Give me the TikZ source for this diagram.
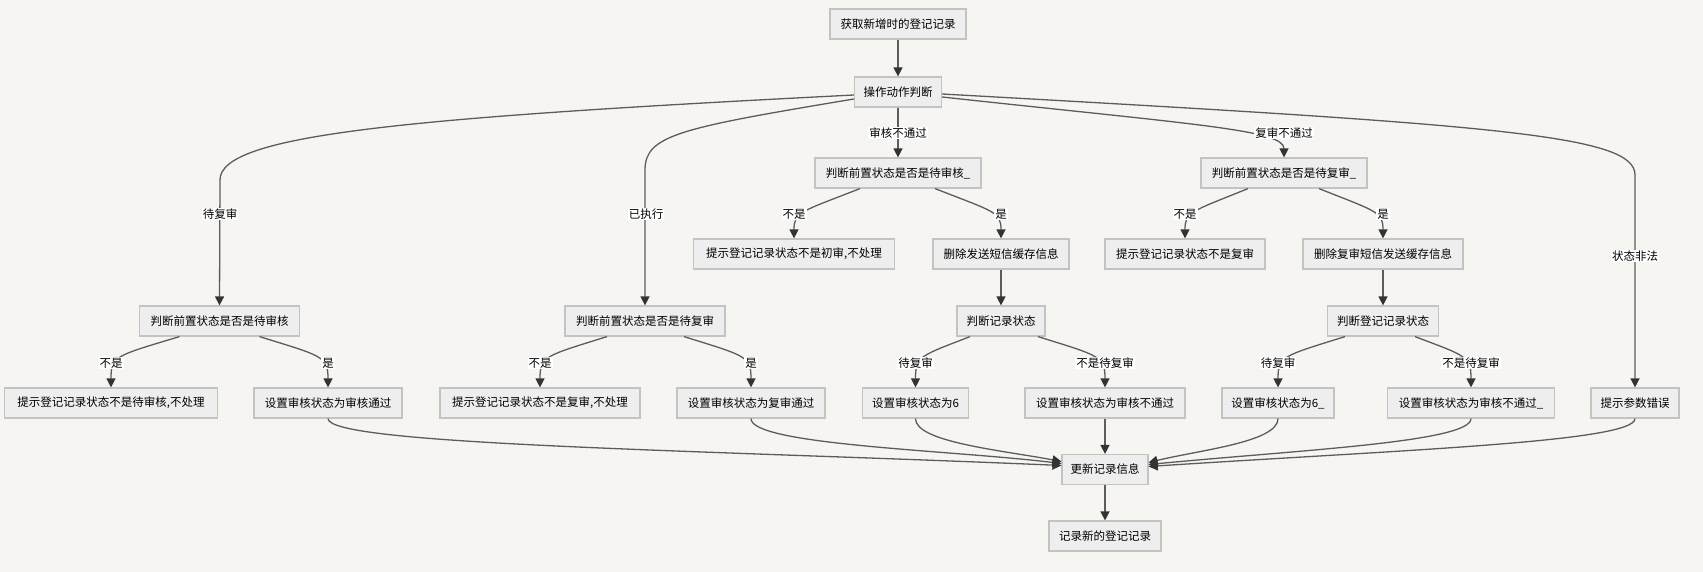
\documentclass[tikz,border=0pt]{standalone}
\usepackage{fontspec}
\newfontfamily\cjk{Noto Sans CJK SC}
\usetikzlibrary{arrows.meta}
\definecolor{bg}{HTML}{F6F5F2}
\definecolor{boxfill}{HTML}{EEEEEE}
\definecolor{boxline}{HTML}{C3C3C3}
\definecolor{edgecol}{HTML}{5C5C5C}
\definecolor{tipcol}{HTML}{333333}
\tikzset{
  box/.style={draw=boxline, fill=boxfill, line width=1.2pt, minimum height=30pt,
    inner sep=0pt, font=\cjk\fontsize{11.5}{13}\selectfont},
  lbl/.style={fill=white, inner sep=1pt, font=\cjk\fontsize{11.5}{13}\selectfont},
  flow/.style={draw=edgecol, line width=1.3pt,
    -{Triangle[length=9pt,width=9pt,color=tipcol]}},
}
\begin{document}
\begin{tikzpicture}[x=1pt,y=-1pt]
\fill[bg] (0,0) rectangle (1703,572);
\useasboundingbox (0,0) rectangle (1703,572);

% process boxes
\node[box, minimum width=136pt] (n1)  at (898,24)    {获取新增时的登记记录};
\node[box, minimum width=87pt]  (n2)  at (898,92)    {操作动作判断};
\node[box, minimum width=166pt] (n3)  at (898,173)   {判断前置状态是否是待审核\_};
\node[box, minimum width=166pt] (n6)  at (1284,173)  {判断前置状态是否是待复审\_};
\node[box, minimum width=201pt] (n4)  at (794,254)   {提示登记记录状态不是初审,不处理};
\node[box, minimum width=136pt] (n5)  at (1001,254)  {删除发送短信缓存信息};
\node[box, minimum width=160pt] (n7)  at (1185,254)  {提示登记记录状态不是复审};
\node[box, minimum width=160pt] (n8)  at (1383,254)  {删除复审短信发送缓存信息};
\node[box, minimum width=160pt] (n9)  at (219.5,321) {判断前置状态是否是待审核};
\node[box, minimum width=160pt] (n13) at (645,321)   {判断前置状态是否是待复审};
\node[box, minimum width=88pt]  (n15) at (1001,321)  {判断记录状态};
\node[box, minimum width=111pt] (n20) at (1383,321)  {判断登记记录状态};
\node[box, minimum width=213pt] (n10) at (111,403)   {提示登记记录状态不是待审核,不处理};
\node[box, minimum width=148pt] (n11) at (328,403)   {设置审核状态为审核通过};
\node[box, minimum width=200pt] (n12) at (540,403)   {提示登记记录状态不是复审,不处理};
\node[box, minimum width=148pt] (n14) at (751,403)   {设置审核状态为复审通过};
\node[box, minimum width=106pt] (n16) at (915.5,403) {设置审核状态为6};
\node[box, minimum width=160pt] (n17) at (1105,403)  {设置审核状态为审核不通过};
\node[box, minimum width=112pt] (n21) at (1278,403)  {设置审核状态为6\_};
\node[box, minimum width=167pt] (n22) at (1471,403)  {设置审核状态为审核不通过\_};
\node[box, minimum width=88pt]  (n23) at (1635,403)  {提示参数错误};
\node[box, minimum width=86pt]  (n18) at (1105,469.5) {更新记录信息};
\node[box, minimum width=112pt] (n19) at (1105,536)  {记录新的登记记录};

% top flow
\draw[flow] (n1) -- (n2);
\draw[flow] ([yshift=-3pt]n2.west) .. controls (400,118) and (220,135) .. (220,180) -- (n9.north);
\draw[flow] ([yshift=-7pt]n2.west) .. controls (680,128) and (645,135) .. (645,170) -- (n13.north);
\draw[flow] (n2) -- (n3);
\draw[flow] ([yshift=-5pt]n2.east) .. controls (1200,125) and (1284,130) .. (n6.north);
\draw[flow] ([yshift=-2pt]n2.east) .. controls (1500,125) and (1635,135) .. (1635,175) -- (n23.north);

% checks on the previous state
\draw[flow] ([xshift=-38pt]n3.south) .. controls (800,212) and (794,212) .. (n4.north);
\draw[flow] ([xshift=37pt]n3.south) .. controls (995,212) and (1001,212) .. (n5.north);
\draw[flow] ([xshift=-36pt]n6.south) .. controls (1190,212) and (1185,212) .. (n7.north);
\draw[flow] ([xshift=35pt]n6.south) .. controls (1378,212) and (1383,212) .. (n8.north);
\draw[flow] (n5) -- (n15);
\draw[flow] (n8) -- (n20);
\draw[flow] ([xshift=-40pt]n9.south) .. controls (115,356) and (111,356) .. (n10.north);
\draw[flow] ([xshift=40pt]n9.south) .. controls (322,356) and (328,356) .. (n11.north);
\draw[flow] ([xshift=-38pt]n13.south) .. controls (545,356) and (540,356) .. (n12.north);
\draw[flow] ([xshift=39pt]n13.south) .. controls (746,356) and (751,356) .. (n14.north);
\draw[flow] ([xshift=-31pt]n15.south) .. controls (920,356) and (915.5,356) .. (n16.north);
\draw[flow] ([xshift=37pt]n15.south) .. controls (1100,356) and (1105,356) .. (n17.north);
\draw[flow] ([xshift=-38pt]n20.south) .. controls (1283,356) and (1278,356) .. (n21.north);
\draw[flow] ([xshift=32pt]n20.south) .. controls (1466,356) and (1471,356) .. (n22.north);

% joins into the record update
\draw[flow] (n11.south) .. controls (328,445) and (700,450) .. ([yshift=4pt]n18.west);
\draw[flow] (n14.south) .. controls (751,445) and (950,450) .. ([yshift=6pt]n18.west);
\draw[flow] (n16.south) .. controls (915.5,442) and (1000,450) .. ([yshift=8pt]n18.west);
\draw[flow] (n17) -- (n18);
\draw[flow] (n21.south) .. controls (1278,442) and (1200,450) .. ([yshift=7pt]n18.east);
\draw[flow] (n22.south) .. controls (1471,442) and (1300,450) .. ([yshift=5pt]n18.east);
\draw[flow] (n23.south) .. controls (1635,442) and (1400,450) .. ([yshift=3pt]n18.east);
\draw[flow] (n18) -- (n19);

% edge labels
\node[lbl] (l1)  at (220,214)  {待复审};
\node[lbl] (l2)  at (646,214)  {已执行};
\node[lbl] (l3)  at (898,133)  {审核不通过};
\node[lbl] (l4)  at (1284,133) {复审不通过};
\node[lbl] (l5)  at (1635,256) {状态非法};
\node[lbl] (l6)  at (794,214)  {不是};
\node[lbl] (l7)  at (1001,214) {是};
\node[lbl] (l8)  at (1185,214) {不是};
\node[lbl] (l9)  at (1383,214) {是};
\node[lbl] (l10) at (111,363)  {不是};
\node[lbl] (l11) at (328,363)  {是};
\node[lbl] (l12) at (540,363)  {不是};
\node[lbl] (l13) at (751,363)  {是};
\node[lbl] (l14) at (915.5,363) {待复审};
\node[lbl] (l15) at (1105,363) {不是待复审};
\node[lbl] (l16) at (1278,363) {待复审};
\node[lbl] (l17) at (1471,363) {不是待复审};
\end{tikzpicture}
\end{document}
